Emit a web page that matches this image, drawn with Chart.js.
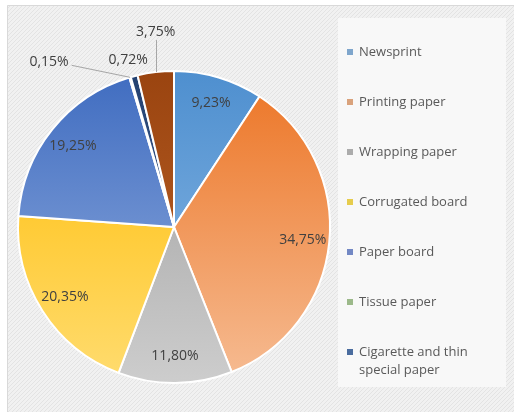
<!DOCTYPE html>
<html>
<head>
<meta charset="utf-8">
<script src="https://cdn.jsdelivr.net/npm/chart.js@4/dist/chart.umd.min.js"></script>
<style>
  html, body { margin: 0; padding: 0; background: #fff; }
  #wrap { width: 514px; height: 412px; }
</style>
</head>
<body>
<div id="wrap"><canvas id="paperChart" width="514" height="412"></canvas></div>
<script>
  // paper production shares, %
  var categories = [
    "Newsprint",
    "Printing paper",
    "Wrapping paper",
    "Corrugated board",
    "Paper board",
    "Tissue paper",
    "Cigarette and thin special paper",
    "Other"
  ];
  var shares = [9.23, 34.75, 11.80, 20.35, 19.25, 0.15, 0.72, 3.75];
  // legend box in the original only fits the first seven names
  var legendShown = 7;

  // top / bottom of the office-style gradient per slice
  var topColors = ["#4e8fcf", "#ec7424", "#9c9c9c", "#ffbb00", "#3f6cc0", "#63a33b", "#22406f", "#9a4410"];
  var bottomColors = ["#8fbbe6", "#f6bc93", "#cdcdcd", "#ffdc70", "#97b1e0", "#a3cf86", "#4f6fa8", "#c0662a"];
  var legendColors = ["#7fa6cc", "#d9a27c", "#acacac", "#e6cc4d", "#7388c4", "#9cb98a", "#4a6c9e", "#a8683c"];

  // where the small slices put their labels, relative to the slice edge
  var outsideLabels = {
    5: { dx: -81, dy: -15, line: true },
    6: { dx: -6, dy: -16, line: false },
    7: { dx: 0, dy: -40, line: true }
  };

  function formatShare(v) {
    return v.toFixed(2).replace(".", ",") + "%";
  }

  function sliceGradient(context) {
    var chart = context.chart;
    var area = chart.chartArea;
    if (!area) return topColors[context.dataIndex];
    var g = chart.ctx.createLinearGradient(0, area.top, 0, area.bottom);
    g.addColorStop(0, topColors[context.dataIndex]);
    g.addColorStop(1, bottomColors[context.dataIndex]);
    return g;
  }

  var backdrop = {
    id: "backdrop",
    beforeDraw: function (chart) {
      var ctx = chart.ctx;
      ctx.save();
      ctx.fillStyle = "#ffffff";
      ctx.fillRect(0, 0, chart.width, chart.height);

      var tile = document.createElement("canvas");
      tile.width = 4;
      tile.height = 4;
      var t = tile.getContext("2d");
      t.fillStyle = "#f1f1f1";
      t.fillRect(0, 0, 4, 4);
      t.strokeStyle = "#e3e3e3";
      t.lineWidth = 1;
      t.beginPath();
      t.moveTo(0, 4);
      t.lineTo(4, 0);
      t.stroke();
      ctx.fillStyle = ctx.createPattern(tile, "repeat");
      ctx.fillRect(7, 5, chart.width - 7, chart.height - 5);

      ctx.strokeStyle = "#d9d9d9";
      ctx.lineWidth = 1;
      ctx.beginPath();
      ctx.moveTo(7.5, chart.height);
      ctx.lineTo(7.5, 5.5);
      ctx.lineTo(chart.width, 5.5);
      ctx.stroke();

      // legend panel
      ctx.fillStyle = "#f8f8f8";
      ctx.fillRect(338, 18, 168, 369);
      ctx.restore();
    }
  };

  var sliceLabels = {
    id: "sliceLabels",
    afterDatasetsDraw: function (chart) {
      var ctx = chart.ctx;
      var arcs = chart.getDatasetMeta(0).data;
      ctx.save();
      ctx.font = "14px 'Open Sans'";
      ctx.fillStyle = "#404040";
      ctx.textAlign = "center";
      ctx.textBaseline = "middle";
      arcs.forEach(function (arc, i) {
        var p = arc.getProps(["x", "y", "startAngle", "endAngle", "outerRadius"], true);
        var mid = (p.startAngle + p.endAngle) / 2;
        var text = formatShare(shares[i]);
        var out = outsideLabels[i];
        if (!out) {
          var r = p.outerRadius * 0.83;
          ctx.fillText(text, p.x + Math.cos(mid) * r, p.y + Math.sin(mid) * r);
          return;
        }
        var ex = p.x + Math.cos(mid) * p.outerRadius;
        var ey = p.y + Math.sin(mid) * p.outerRadius;
        var lx = ex + out.dx;
        var ly = ey + out.dy;
        if (out.line) {
          ctx.strokeStyle = "#a6a6a6";
          ctx.lineWidth = 1;
          ctx.beginPath();
          if (Math.abs(out.dx) > Math.abs(out.dy)) {
            ctx.moveTo(lx + ctx.measureText(text).width / 2 + 3, ly + 3);
          } else {
            ctx.moveTo(Math.round(lx) + 0.5, ly + 8);
            ex = Math.round(lx) + 0.5;
          }
          ctx.lineTo(ex, ey);
          ctx.stroke();
        }
        ctx.fillText(text, lx, ly);
      });
      ctx.restore();
    }
  };

  var sideLegend = {
    id: "sideLegend",
    afterDraw: function (chart) {
      var ctx = chart.ctx;
      ctx.save();
      ctx.font = "13px 'Open Sans'";
      ctx.textBaseline = "middle";
      ctx.textAlign = "left";
      var lines = [];
      for (var i = 0; i < legendShown; i++) {
        var y = 52 + i * 50;
        ctx.fillStyle = legendColors[i];
        ctx.fillRect(347, y - 3, 6, 6);
        ctx.fillStyle = "#595959";
        if (categories[i] === "Cigarette and thin special paper") {
          lines = ["Cigarette and thin", "special paper"];
        } else {
          lines = [categories[i]];
        }
        lines.forEach(function (line, k) {
          ctx.fillText(line, 359, y + k * 18);
        });
      }
      ctx.restore();
    }
  };

  new Chart(document.getElementById("paperChart"), {
    type: "pie",
    data: {
      labels: categories,
      datasets: [{
        data: shares,
        backgroundColor: sliceGradient,
        borderColor: "#ffffff",
        borderWidth: 2
      }]
    },
    options: {
      responsive: false,
      animation: false,
      rotation: 0,
      layout: {
        padding: { left: 17, top: 70, right: 183, bottom: 28 }
      },
      plugins: {
        legend: { display: false },
        tooltip: { enabled: false }
      }
    },
    plugins: [backdrop, sliceLabels, sideLegend]
  });
</script>
</body>
</html>
